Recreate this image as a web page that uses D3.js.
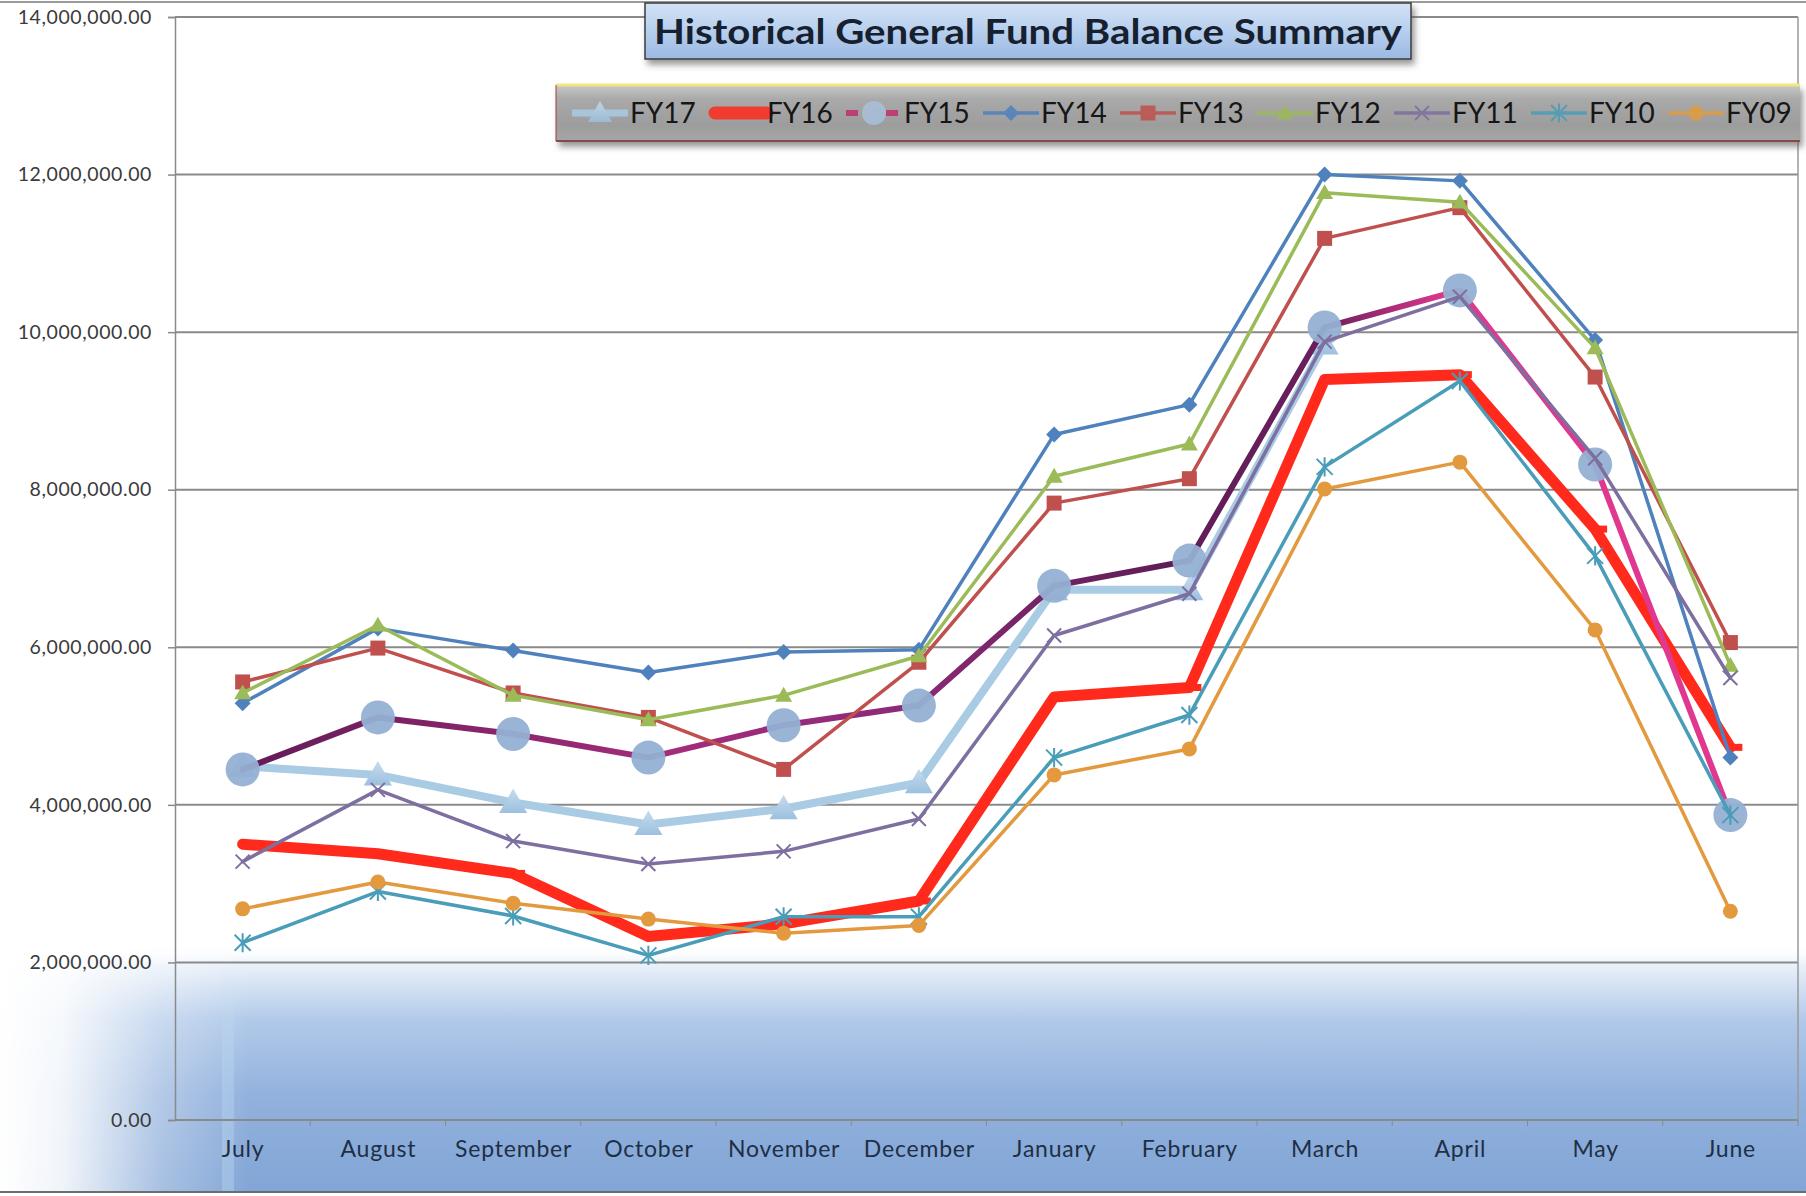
<!DOCTYPE html>
<html>
<head>
<meta charset="utf-8">
<script src="https://cdn.jsdelivr.net/npm/d3@7.9.0/dist/d3.min.js"></script>
<style>
  html, body { margin: 0; padding: 0; background: #fff; }
  svg { display: block; font-family: Lato, "Open Sans", sans-serif; }
</style>
</head>
<body>
<svg id="chart" width="1806" height="1196"></svg>
<script>
// months of the fiscal year
const months = ["July", "August", "September", "October", "November", "December",
                "January", "February", "March", "April", "May", "June"];

// balances per fiscal year (dollars)
const fy17 = [4490000, 4380000, 4030000, 3750000, 3950000, 4280000, 6730000, 6730000, 9850000, null, null, null];
const fy16 = [3500000, 3380000, 3130000, 2330000, 2490000, 2780000, 5370000, 5490000, 9400000, 9460000, 7500000, 4730000];
const fy15 = [4450000, 5110000, 4900000, 4600000, 5010000, 5260000, 6780000, 7100000, 10060000, 10530000, 8320000, 3870000];
const fy14 = [5290000, 6240000, 5960000, 5680000, 5940000, 5970000, 8700000, 9080000, 12000000, 11920000, 9900000, 4600000];
const fy13 = [5560000, 5990000, 5420000, 5110000, 4450000, 5810000, 7830000, 8140000, 11190000, 11580000, 9430000, 6060000];
const fy12 = [5420000, 6280000, 5390000, 5080000, 5390000, 5890000, 8170000, 8580000, 11770000, 11650000, 9800000, 5770000];
const fy11 = [3280000, 4190000, 3540000, 3250000, 3410000, 3820000, 6150000, 6680000, 9880000, 10450000, 8400000, 5610000];
const fy10 = [2250000, 2900000, 2590000, 2090000, 2580000, 2580000, 4600000, 5140000, 8290000, 9380000, 7160000, 3870000];
const fy09 = [2680000, 3020000, 2750000, 2550000, 2370000, 2470000, 4380000, 4710000, 8010000, 8350000, 6220000, 2650000];

const seriesNames = ["FY17", "FY16", "FY15", "FY14", "FY13", "FY12", "FY11", "FY10", "FY09"];
const seriesValues = [fy17, fy16, fy15, fy14, fy13, fy12, fy11, fy10, fy09];

const yTicks = [0, 2000000, 4000000, 6000000, 8000000, 10000000, 12000000, 14000000];
const title = "Historical General Fund Balance Summary";

// look of each series
const styles = {
  FY17: { color: "#a9cbe3", width: 8, marker: "triangle", size: 14, fill: "url(#fy17mk)" },
  FY16: { color: "#ff2a1c", width: 11, marker: "dash", size: 7, fill: "#ff2a1c" },
  FY15: { color: "url(#fy15line)", width: 6, marker: "circle", size: 17, fill: "#93b0d3" },
  FY14: { color: "#4f81bd", width: 3.5, marker: "diamond", size: 8, fill: "#4f81bd" },
  FY13: { color: "#c0504d", width: 3.5, marker: "square", size: 7.5, fill: "#c0504d" },
  FY12: { color: "#9bbb59", width: 3.5, marker: "triangle", size: 8.5, fill: "#9bbb59" },
  FY11: { color: "#7d6f9f", width: 3.5, marker: "x", size: 7, fill: "none" },
  FY10: { color: "#4a9db8", width: 3.5, marker: "star", size: 8, fill: "none" },
  FY09: { color: "#e39a3f", width: 3.5, marker: "circle", size: 7.5, fill: "#e39a3f" }
};

function markerPath(type, s) {
  if (type === "triangle") return `M0,${-s}L${s * 1.0},${s * 0.75}L${-s * 1.0},${s * 0.75}Z`;
  if (type === "diamond") return `M0,${-s}L${s},0L0,${s}L${-s},0Z`;
  if (type === "square") return `M${-s},${-s}h${2 * s}v${2 * s}h${-2 * s}Z`;
  if (type === "circle") return d3.arc()({ innerRadius: 0, outerRadius: s, startAngle: 0, endAngle: 2 * Math.PI });
  if (type === "x") return `M${-s},${-s}L${s},${s}M${-s},${s}L${s},${-s}`;
  if (type === "star") return `M${-s},${-s}L${s},${s}M${-s},${s}L${s},${-s}M0,${-s * 1.2}L0,${s * 1.2}`;
  if (type === "dash") return `M-2,${-s / 2}h14v${s}h-14Z`;
  return "";
}

const W = 1806, H = 1196;
const plotLeft = 175, plotRight = 1798, plotTop = 17, plotBottom = 1120;
const FONT = "Lato, 'Open Sans', sans-serif";

const svg = d3.select("#chart");
const defs = svg.append("defs");

// gradients
const wash = defs.append("linearGradient").attr("id", "wash")
  .attr("x1", 0).attr("y1", 0).attr("x2", 0).attr("y2", 1);
wash.selectAll("stop")
  .data([[0, "#ffffff", 0], [0.08, "#eaf1fa", 1], [0.3, "#b2cae9", 1], [0.6, "#93b2dd", 1], [1, "#81a5d6", 1]])
  .join("stop")
  .attr("offset", d => d[0]).attr("stop-color", d => d[1]).attr("stop-opacity", d => d[2]);

const fade = defs.append("linearGradient").attr("id", "fade")
  .attr("gradientUnits", "userSpaceOnUse").attr("x1", 0).attr("y1", 0).attr("x2", 250).attr("y2", 0);
fade.selectAll("stop")
  .data([[0, 1], [0.25, 0.88], [0.65, 0.3], [1, 0]])
  .join("stop")
  .attr("offset", d => d[0]).attr("stop-color", "#fff").attr("stop-opacity", d => d[1]);

const stripe = defs.append("linearGradient").attr("id", "stripe")
  .attr("x1", 0).attr("y1", 0).attr("x2", 0).attr("y2", 1);
stripe.selectAll("stop")
  .data([[0, 0], [0.4, 0.3], [1, 0.35]])
  .join("stop")
  .attr("offset", d => d[0]).attr("stop-color", "#bfe0f2").attr("stop-opacity", d => d[1]);

const fy15line = defs.append("linearGradient").attr("id", "fy15line")
  .attr("gradientUnits", "userSpaceOnUse").attr("x1", 200).attr("y1", 0).attr("x2", 1760).attr("y2", 0);
fy15line.selectAll("stop")
  .data([[0, "#5c1a52"], [0.3, "#a42c7c"], [0.45, "#8c2a78"], [0.62, "#5e1d55"], [0.72, "#6a1f5d"], [0.8, "#e0388e"], [1, "#e0388e"]])
  .join("stop")
  .attr("offset", d => d[0]).attr("stop-color", d => d[1]);

const fy17mk = defs.append("linearGradient").attr("id", "fy17mk")
  .attr("x1", 0).attr("y1", 0).attr("x2", 0).attr("y2", 1);
fy17mk.selectAll("stop")
  .data([[0, "#c7dcee"], [1, "#9cc0df"]])
  .join("stop")
  .attr("offset", d => d[0]).attr("stop-color", d => d[1]);

const titleFill = defs.append("linearGradient").attr("id", "titleFill")
  .attr("x1", 0).attr("y1", 0).attr("x2", 0).attr("y2", 1);
titleFill.selectAll("stop")
  .data([[0, "#d2e2f5"], [0.5, "#b7cfee"], [1, "#9bb9e2"]])
  .join("stop")
  .attr("offset", d => d[0]).attr("stop-color", d => d[1]);

const legendFill = defs.append("linearGradient").attr("id", "legendFill")
  .attr("x1", 0).attr("y1", 0).attr("x2", 0).attr("y2", 1);
legendFill.selectAll("stop")
  .data([[0, "#c9c9c9"], [0.25, "#a9a9a9"], [0.7, "#9d9d9d"], [1, "#a6a6a6"]])
  .join("stop")
  .attr("offset", d => d[0]).attr("stop-color", d => d[1]);

const shadow = defs.append("filter").attr("id", "shadow")
  .attr("x", "-5%").attr("y", "-20%").attr("width", "110%").attr("height", "160%");
shadow.append("feDropShadow").attr("dx", 3).attr("dy", 5).attr("stdDeviation", 3)
  .attr("flood-color", "#555").attr("flood-opacity", 0.6);

// background
svg.append("rect").attr("width", W).attr("height", H).attr("fill", "#fff");
svg.append("rect").attr("x", 0).attr("y", 945).attr("width", W).attr("height", 247).attr("fill", "url(#wash)");
svg.append("rect").attr("x", 0).attr("y", 945).attr("width", 250).attr("height", 247).attr("fill", "url(#fade)");
svg.append("rect").attr("x", 222).attr("y", 960).attr("width", 12).attr("height", 232)
  .attr("fill", "url(#stripe)");

// outer frame lines
svg.append("line").attr("x1", 0).attr("x2", W).attr("y1", 2).attr("y2", 2).attr("stroke", "#9a9a9a").attr("stroke-width", 2);
svg.append("line").attr("x1", 0).attr("x2", W).attr("y1", 1192).attr("y2", 1192).attr("stroke", "#6d6d6d").attr("stroke-width", 2);

// scales
const x = d3.scalePoint().domain(months).range([plotLeft, plotRight]).padding(0.5);
const y = d3.scaleLinear().domain([0, 14000000]).range([plotBottom, plotTop]);

// gridlines
svg.append("g").selectAll("line").data(yTicks).join("line")
  .attr("x1", plotLeft).attr("x2", plotRight)
  .attr("y1", d => y(d)).attr("y2", d => y(d))
  .attr("stroke", "#8a8a8a").attr("stroke-width", 2);
svg.append("line").attr("x1", plotRight).attr("x2", plotRight).attr("y1", plotTop).attr("y2", plotBottom)
  .attr("stroke", "#9a9a9a").attr("stroke-width", 1.5);

// y axis
const yAxis = svg.append("g").attr("transform", `translate(${plotLeft},0)`)
  .call(d3.axisLeft(y).tickValues(yTicks).tickFormat(d3.format(",.2f")).tickSize(7).tickPadding(16))
  .attr("font-family", FONT);
yAxis.select(".domain").attr("stroke", "#8a8a8a").attr("stroke-width", 1.5);
yAxis.selectAll(".tick line").attr("stroke", "#8a8a8a").attr("stroke-width", 1.5);
yAxis.selectAll(".tick text").attr("fill", "#3a3a3a").style("font-size", "19.5px").style("letter-spacing", "0.6px");

// x axis
const xAxis = svg.append("g").attr("transform", `translate(0,${plotBottom})`)
  .call(d3.axisBottom(x).tickSize(0).tickPadding(21))
  .attr("font-family", FONT);
xAxis.select(".domain").remove();
xAxis.selectAll(".tick text").attr("fill", "#1f2f45").style("font-size", "23px").style("letter-spacing", "0.8px");
const step = x.step();
svg.append("g").selectAll("line").data(months).join("line")
  .attr("x1", d => x(d) + step / 2).attr("x2", d => x(d) + step / 2)
  .attr("y1", plotBottom).attr("y2", plotBottom + 6)
  .attr("stroke", "#8a8a8a").attr("stroke-width", 1);

// series lines and markers
const line = d3.line()
  .defined(d => d[1] != null)
  .x(d => x(d[0]))
  .y(d => y(d[1]));

seriesNames.forEach((name, i) => {
  const st = styles[name];
  const pts = months.map((m, j) => [m, seriesValues[i][j]]);
  const g = svg.append("g");
  g.append("path")
    .attr("d", line(pts))
    .attr("fill", "none")
    .attr("stroke", st.color)
    .attr("stroke-width", st.width)
    .attr("stroke-linejoin", "round")
    .attr("stroke-linecap", "round");
  g.selectAll(".mk").data(pts.filter(d => d[1] != null)).join("path")
    .attr("class", "mk")
    .attr("transform", d => `translate(${x(d[0])},${y(d[1])})`)
    .attr("d", markerPath(st.marker, st.size))
    .attr("fill", st.fill)
    .attr("stroke", st.fill === "none" ? st.color : "none")
    .attr("stroke-width", 2)
    .attr("opacity", name === "FY15" ? 0.95 : 1);
});

// title box
svg.append("rect")
  .attr("x", 645).attr("y", 3).attr("width", 766).attr("height", 56)
  .attr("fill", "url(#titleFill)").attr("stroke", "#3d3d3d").attr("stroke-width", 1.5)
  .attr("filter", "url(#shadow)");
svg.append("text")
  .attr("x", 1028).attr("y", 44)
  .attr("text-anchor", "middle")
  .attr("textLength", 748).attr("lengthAdjust", "spacingAndGlyphs")
  .attr("fill", "#16202e")
  .style("font-size", "35px").style("font-weight", 700)
  .text(title);

// legend box
const lg = svg.append("g");
lg.append("rect")
  .attr("x", 556).attr("y", 85).attr("width", 1244).attr("height", 57)
  .attr("fill", "url(#legendFill)").attr("filter", "url(#shadow)");
lg.append("line").attr("x1", 556).attr("x2", 1800).attr("y1", 85).attr("y2", 85)
  .attr("stroke", "#f2e77e").attr("stroke-width", 3);
lg.append("line").attr("x1", 556).attr("x2", 1800).attr("y1", 141).attr("y2", 141)
  .attr("stroke", "#7e2a2a").attr("stroke-width", 1.5);
lg.append("line").attr("x1", 556).attr("x2", 556).attr("y1", 85).attr("y2", 141)
  .attr("stroke", "#a04040").attr("stroke-width", 1);

const legendStep = 137;
seriesNames.forEach((name, i) => {
  const st = styles[name];
  const x0 = 572 + i * legendStep;
  const cy = 113;
  const item = lg.append("g").attr("opacity", 0.85);
  if (name === "FY16") {
    item.append("line").attr("x1", x0 + 6).attr("x2", x0 + 58).attr("y1", cy).attr("y2", cy)
      .attr("stroke", st.color).attr("stroke-width", 13).attr("stroke-linecap", "round");
  } else {
    item.append("line").attr("x1", x0).attr("x2", x0 + 56).attr("y1", cy).attr("y2", cy)
      .attr("stroke", name === "FY15" ? "#c0306a" : st.color)
      .attr("stroke-width", Math.min(st.width, 7))
      .attr("stroke-dasharray", name === "FY15" ? "12,8" : null);
    item.append("path")
      .attr("transform", `translate(${x0 + 28},${cy})`)
      .attr("d", markerPath(st.marker, name === "FY17" || name === "FY15" ? 12 : st.size))
      .attr("fill", st.fill === "none" ? "none" : (name === "FY15" ? "#a9c0dc" : st.fill))
      .attr("stroke", st.fill === "none" ? st.color : "none")
      .attr("stroke-width", 2);
  }
  lg.append("text")
    .attr("x", x0 + 58).attr("y", cy + 10)
    .attr("fill", "#161616")
    .style("font-size", "28px")
    .text(name);
});
</script>
</body>
</html>
